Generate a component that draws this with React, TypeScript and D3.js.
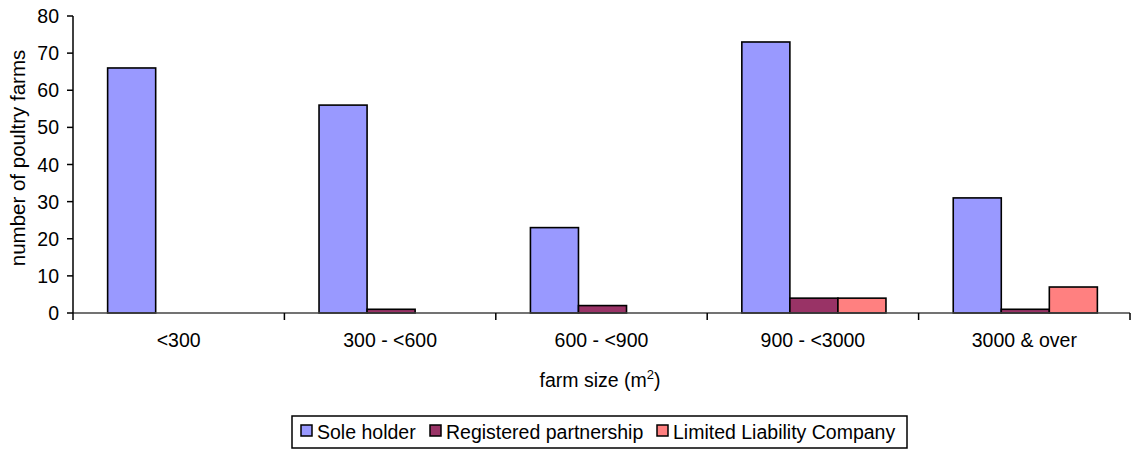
import * as d3 from 'd3'
import React, { useEffect, useRef } from 'react'

const categories = ['<300', '300 - <600', '600 - <900', '900 - <3000', '3000 & over']
const seriesNames = ['Sole holder', 'Registered partnership', 'Limited Liability Company']
const soleHolder = [66, 56, 23, 73, 31]
const partnership = [0, 1, 2, 4, 1]
const limitedCompany = [0, 0, 0, 4, 7]
const yTicks = [0, 10, 20, 30, 40, 50, 60, 70, 80]
const colors = ['#9999FF', '#993366', '#FF8080']

const App = () => {
  const svgRef = useRef<any>(null)

  useEffect(() => {
    if (!svgRef.current) return
    const svg = d3.select(svgRef.current)
    svg.selectAll('*').remove()

    const width = 1133
    const height = 450
    const margin = { left: 73, right: 3, top: 16, bottom: 137 }
    const font = 'Liberation Sans, Arial, sans-serif'
    const fs = 19.5

    const x = d3.scaleBand()
      .domain(categories)
      .range([margin.left, width - margin.right])
    const inner = d3.scaleBand()
      .domain(seriesNames)
      .range([0, x.bandwidth()])
      .paddingOuter(0.7)
    const y = d3.scaleLinear()
      .domain([0, 80])
      .range([height - margin.bottom, margin.top])

    const values = [soleHolder, partnership, limitedCompany]
    const g = svg.append('g')

    // bars
    seriesNames.forEach((s, si) => {
      g.selectAll(`.bar-${si}`)
        .data(categories)
        .enter()
        .append('rect')
        .attr('x', (d) => (x(d) as number) + (inner(s) as number) + 1)
        .attr('width', inner.bandwidth())
        .attr('y', (d, i) => y(values[si][i]))
        .attr('height', (d, i) => y(0) - y(values[si][i]))
        .attr('fill', colors[si])
        .attr('stroke', '#000')
        .attr('stroke-width', 1.6)
        .style('display', (d, i) => values[si][i] === 0 ? 'none' : null)
    })

    // x axis
    const y0 = y(0)
    g.append('line')
      .attr('x1', margin.left).attr('x2', width - margin.right)
      .attr('y1', y0).attr('y2', y0)
      .attr('stroke', '#444').attr('stroke-width', 1.5)
    const bounds = categories.map((c) => x(c) as number).concat([width - margin.right])
    g.selectAll('.xtick')
      .data(bounds)
      .enter()
      .append('line')
      .attr('x1', (d) => d).attr('x2', (d) => d)
      .attr('y1', y0).attr('y2', y0 + 7)
      .attr('stroke', '#000').attr('stroke-width', 1.5)
    g.selectAll('.xlabel')
      .data(categories)
      .enter()
      .append('text')
      .attr('x', (d) => (x(d) as number) + x.bandwidth() / 2)
      .attr('y', 347)
      .attr('text-anchor', 'middle')
      .attr('font-family', font)
      .attr('font-size', fs)
      .text((d) => d)

    // y axis
    g.append('line')
      .attr('x1', margin.left).attr('x2', margin.left)
      .attr('y1', y(80)).attr('y2', y0)
      .attr('stroke', '#000').attr('stroke-width', 1.5)
    g.selectAll('.ytick')
      .data(yTicks)
      .enter()
      .append('line')
      .attr('x1', margin.left - 6).attr('x2', margin.left)
      .attr('y1', (d) => y(d)).attr('y2', (d) => y(d))
      .attr('stroke', '#000').attr('stroke-width', 1.5)
    g.selectAll('.ylabel')
      .data(yTicks)
      .enter()
      .append('text')
      .attr('x', 59)
      .attr('y', (d) => y(d) + 7)
      .attr('text-anchor', 'end')
      .attr('font-family', font)
      .attr('font-size', fs)
      .text((d) => d)

    // axis titles
    g.append('text')
      .attr('transform', `translate(25, 158) rotate(-90)`)
      .attr('text-anchor', 'middle')
      .attr('font-family', font)
      .attr('font-size', 20.5)
      .text('number of poultry farms')
    const xt = g.append('text')
      .attr('x', 600)
      .attr('y', 387)
      .attr('text-anchor', 'middle')
      .attr('font-family', font)
      .attr('font-size', fs)
    xt.append('tspan').text('farm size (m')
    xt.append('tspan').attr('dy', -8).attr('font-size', 13).text('2')
    xt.append('tspan').attr('dy', 8).text(')')

    // legend
    g.append('rect')
      .attr('x', 292).attr('y', 416)
      .attr('width', 615).attr('height', 32)
      .attr('fill', '#fff').attr('stroke', '#000').attr('stroke-width', 1.5)
    const legendX = [301, 430, 657]
    seriesNames.forEach((s, i) => {
      g.append('rect')
        .attr('x', legendX[i]).attr('y', 425)
        .attr('width', 11).attr('height', 11)
        .attr('fill', colors[i]).attr('stroke', '#000').attr('stroke-width', 1.5)
      g.append('text')
        .attr('x', legendX[i] + 16).attr('y', 439)
        .attr('font-family', font)
        .attr('font-size', fs)
        .text(s)
    })
  }, [])

  return (
    <svg
      ref={svgRef}
      width={1133}
      height={450}
      style={{ position: 'absolute', left: 0, top: 0, background: '#fff' }}
    />
  )
}

export default App
